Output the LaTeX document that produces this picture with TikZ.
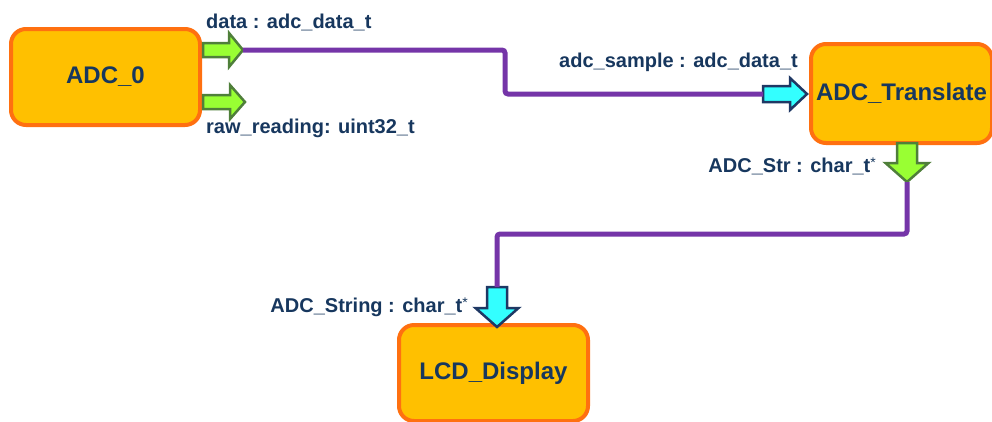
\documentclass[tikz,border=0pt]{standalone}
\usepackage{fontspec}
\setmainfont{Liberation Sans}
\definecolor{boxfill}{HTML}{FFC000}
\definecolor{boxline}{HTML}{FF7010}
\definecolor{navytext}{HTML}{17375E}
\definecolor{wire}{HTML}{7535A8}
\definecolor{gfill}{HTML}{99FF33}
\definecolor{gline}{HTML}{4F7F3A}
\definecolor{cfill}{HTML}{33FFFF}
\definecolor{cline}{HTML}{1F3864}
\tikzset{
  comp/.style={draw=boxline, fill=boxfill, line width=4pt, rounded corners=15pt,
    text=navytext, font=\fontsize{24}{28}\selectfont\bfseries},
  lbl/.style={text=navytext, font=\fontsize{20}{24}\selectfont\bfseries, inner sep=0pt},
  wireline/.style={draw=wire, line width=5pt, rounded corners=3pt},
  greenport/.style={draw=gline, fill=gfill, line width=2.5pt, line join=miter},
  cyanport/.style={draw=cline, fill=cfill, line width=2.5pt, line join=miter},
  pics/harrow/.style args={#1/#2/#3/#4}{code={
    \path[pic actions] (0,-#3) -- (#2,-#3) -- (#2,-#4) -- (#1,0) -- (#2,#4) -- (#2,#3) -- (0,#3) -- cycle;
    \coordinate (-tip) at (#1,0);
    \coordinate (-tail) at (0,0);}},
  pics/varrow/.style args={#1/#2/#3/#4}{code={
    \path[pic actions] (-#3,0) -- (-#3,#2) -- (-#4,#2) -- (0,#1) -- (#4,#2) -- (#3,#2) -- (#3,0) -- cycle;
    \coordinate (-tip) at (0,#1);
    \coordinate (-tail) at (0,0);}}
}
\newcommand{\ptr}{\raisebox{5pt}{\fontsize{14}{14}\selectfont\mdseries*}}
\begin{document}
\begin{tikzpicture}[x=1pt, y=-1pt]
\useasboundingbox (0,0) rectangle (992,421);

% components
\node[comp, minimum width=189pt, minimum height=96pt] (adc0) at (105.5,77) {ADC\_0};
\node[comp, minimum width=181pt, minimum height=99pt] (trans) at (901.5,93.5) {ADC\_Translate};
\node[comp, minimum width=189pt, minimum height=96pt] (lcd) at (493.5,373) {LCD\_Display};

% bends of the connectors
\coordinate (w1a) at (505,50);
\coordinate (w1b) at (505,94);
\coordinate (w2a) at (907,234);
\coordinate (w2b) at (497,234);

% ports
\pic[greenport] (pdata) at (203,50) {harrow=40/26/7/17};
\pic[greenport] (praw) at (203,102) {harrow=42/27/7/17};
\pic[cyanport] (psample) at (763,94) {harrow=44/27/8/16};
\pic[greenport] (pstr) at (907,143) {varrow=39/20/10/21.5};
\pic[cyanport] (pstring) at (497,287) {varrow=40/21/10/21.5};

% connectors
\draw[wireline] (pdata-tip) -- (w1a) -- (w1b) -- (psample-tail);
\draw[wireline] (pstr-tip) -- (w2a) -- (w2b) -- (pstring-tail);

% labels
\node[lbl, anchor=base west] (ldata) at (206,28) {data : adc\_data\_t};
\node[lbl, anchor=base west] (lraw) at (206,133) {raw\_reading: uint32\_t};
\node[lbl, anchor=base east] (lsample) at (798,67) {adc\_sample : adc\_data\_t};
\node[lbl, anchor=base east] (lstr) at (876,172) {ADC\_Str : char\_t\ptr};
\node[lbl, anchor=base east] (lstring) at (468,312) {ADC\_String : char\_t\ptr};
\end{tikzpicture}
\end{document}
